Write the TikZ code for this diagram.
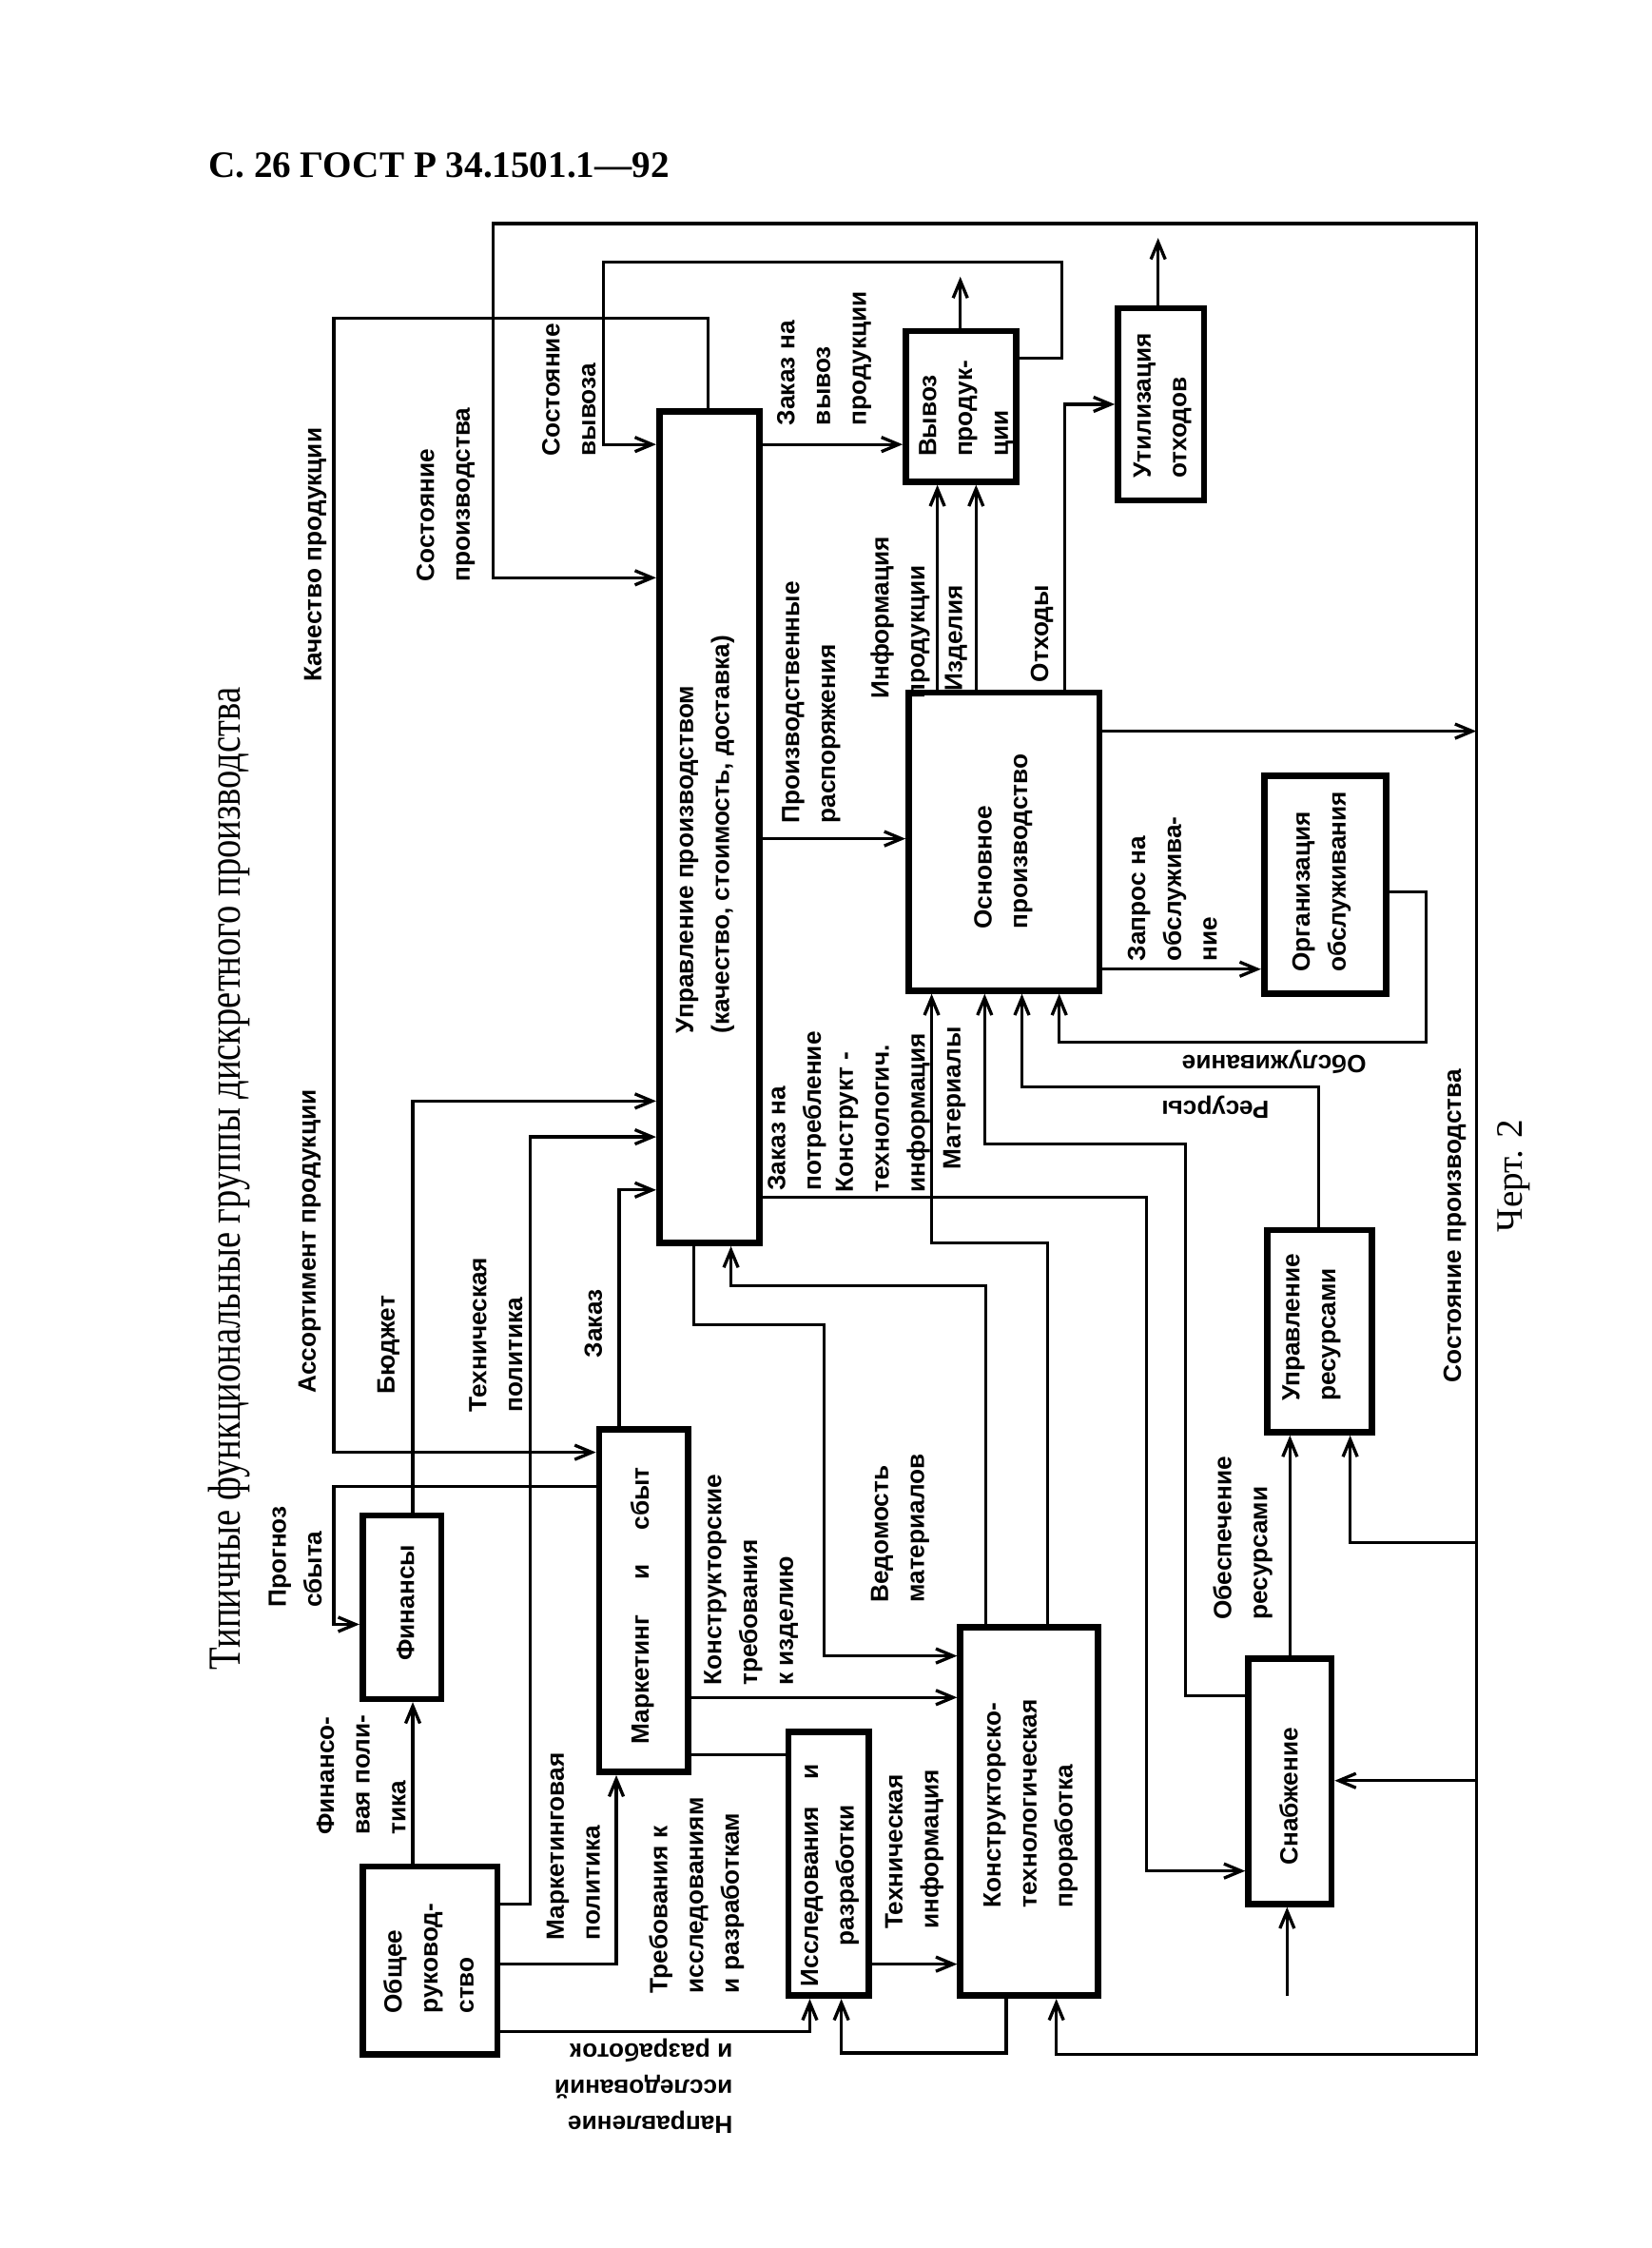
\documentclass[tikz,border=0pt]{standalone}
\usepackage{fontspec}
\setmainfont{Liberation Serif}
\newfontfamily\labfont{Liberation Sans}
\newfontfamily\titlefont[FakeStretch=0.8]{Liberation Serif}
\usetikzlibrary{arrows.meta,fit}
\begin{document}
\begin{tikzpicture}[x=0.5pt,y=-0.5pt,
  box/.style={draw,line width=2.2pt,inner sep=0pt},
  conn/.style={line width=1.1pt},
  arr/.style={line width=1.1pt,-{Straight Barb[length=6pt,width=5pt]}},
  lab/.style={font=\labfont\bfseries\fontsize{8.7}{12.5}\selectfont,rotate=90,align=left,inner sep=0pt},
  labc/.style={lab,align=center},
  labud/.style={font=\labfont\bfseries\fontsize{8.7}{12.5}\selectfont,rotate=180,align=left,inner sep=0pt}]
\useasboundingbox (0,0) rectangle (1152,1568);
% header and title
\node[font=\bfseries\fontsize{13}{13}\selectfont,anchor=base west,inner sep=0pt] (hdr) at (145,124) {С. 26 ГОСТ Р 34.1501.1—92};
\node[font=\titlefont\fontsize{16}{16}\selectfont,rotate=90,inner sep=0pt] (title) at (160,822) {Типичные функциональные группы дискретного производства};
\node[font=\fontsize{13}{13}\selectfont,rotate=90,inner sep=0pt] (chert) at (1056,820) {Черт. 2};
% boxes
\node[box,fit={(460,287) (530,867)}] (UP) {};
\node[box,fit={(632,231) (709,336)}] (VP) {};
\node[box,fit={(780,215) (840,349)}] (UO) {};
\node[box,fit={(634,483) (767,691)}] (OP) {};
\node[box,fit={(882,541) (967,693)}] (OO) {};
\node[box,fit={(884,858) (957,999)}] (UR) {};
\node[box,fit={(871,1157) (929,1328)}] (SN) {};
\node[box,fit={(670,1135) (766,1392)}] (KT) {};
\node[box,fit={(550,1208) (606,1392)}] (IR) {};
\node[box,fit={(253,1302) (347,1433)}] (OR) {};
\node[box,fit={(418,997) (480,1236)}] (MS) {};
\node[box,fit={(253,1057) (308,1185)}] (FI) {};
% box texts
\node[lab] (UPt) at (492,582) {Управление производством\\(качество, стоимость, доставка)};
\node[lab] (VPt) at (674,285) {Вывоз\\продук-\\ции};
\node[lab] (UOt) at (811,283) {Утилизация\\отходов};
\node[lab] (OPt) at (700,587) {Основное\\производство};
\node[lab] (OOt) at (922,615) {Организация\\обслуживания};
\node[lab] (URt) at (915,926) {Управление\\ресурсами};
\node[lab] (SNt) at (899,1253) {Снабжение};
\node[lab] (KTt) at (719,1258) {Конструкторско-\\технологическая\\проработка};
\node[labc] (IRt) at (579,1308) {Исследования\hspace{1.1em}и\\разработки};
\node[lab] (ORt) at (299,1366) {Общее\\руковод-\\ство};
\node[lab] (MSt) at (448,1120) {Маркетинг\hspace{1.4em}и\hspace{1.4em}сбыт};
\node[lab] (FIt) at (283,1118) {Финансы};
% labels
\node[lab] (L1) at (220,387) {Качество продукции};
\node[lab] (L2) at (216,866) {Ассортимент продукции};
\node[lab] (L3) at (206,1086) {Прогноз\\сбыта};
\node[lab] (L4) at (311,345) {Состояние\\производства};
\node[lab] (L5) at (397,272) {Состояние\\вывоза};
\node[lab] (L6) at (575,250) {Заказ на\\вывоз\\продукции};
\node[lab] (L7) at (566,490) {Производственные\\распоряжения};
\node[lab] (L8) at (628,431) {Информация\\продукции};
\node[lab] (L9) at (667,445) {Изделия};
\node[lab] (L10) at (727,442) {Отходы};
\node[lab] (L11) at (818,620) {Запрос на\\обслужива-\\ние};
\node[labud] (L12) at (889,741) {Обслуживание};
\node[labud] (L13) at (848,772) {Ресурсы};
\node[lab] (L14) at (556,775) {Заказ на\\потребление};
\node[lab] (L15) at (616,776) {Конструкт -\\технологич.\\информация};
\node[lab] (L16) at (666,766) {Материалы};
\node[lab] (L17) at (271,938) {Бюджет};
\node[lab] (L18) at (346,931) {Техническая\\политика};
\node[lab] (L19) at (414,923) {Заказ};
\node[lab] (L20) at (400,1288) {Маркетинговая\\политика};
\node[lab] (L21) at (252,1238) {Финансо-\\вая поли-\\тика};
\node[lab] (L22) at (486,1322) {Требования к\\исследованиям\\и разработкам};
\node[lab] (L23) at (524,1102) {Конструкторские\\требования\\к изделию};
\node[lab] (L24) at (628,1066) {Ведомость\\материалов};
\node[lab] (L25) at (638,1290) {Техническая\\информация};
\node[lab] (L26) at (867,1073) {Обеспечение\\ресурсами};
\node[lab] (L27) at (1015,855) {Состояние производства};
\node[labud] (L28) at (449,1455) {Направление\\исследований\\и разработок};
% free ends and junctions
\coordinate (FR) at (1030,510);
\coordinate (FJ1) at (1030,1076);
\coordinate (FJ2) at (1030,1242);
\coordinate (VPout) at (670,193);
\coordinate (UOout) at (808,166);
\coordinate (SNin) at (898,1392);
% connectors
\draw[arr] (UP.north -| 494,0) -- (494,222) -- (233,222) -- (233,1013) -- (MS.west |- 0,1013);
\draw[arr] (MS.west |- 0,1037) -- (233,1037) -- (233,1133) -- (FI.west |- 0,1133);
\draw[arr] (FI.north -| 288,0) -- (288,768) -- (UP.west |- 0,768);
\draw[arr] (OR.east |- 0,1328) -- (370,1328) -- (370,793) -- (UP.west |- 0,793);
\draw[arr] (MS.north -| 432,0) -- (432,830) -- (UP.west |- 0,830);
\draw[arr] (OR.north -| 288,0) -- (FI.south -| 288,0);
\draw[arr] (OR.east |- 0,1370) -- (430,1370) -- (MS.south -| 430,0);
\draw[arr] (OR.east |- 0,1417) -- (565,1417) -- (IR.south -| 565,0);
\draw[conn] (MS.east |- 0,1224) -- (IR.west |- 0,1224);
\draw[arr] (MS.east |- 0,1184) -- (KT.west |- 0,1184);
\draw[arr] (UP.south -| 484,0) -- (484,924) -- (575,924) -- (575,1155) -- (KT.west |- 0,1155);
\draw[arr] (KT.north -| 688,0) -- (688,897) -- (510,897) -- (UP.south -| 510,0);
\draw[arr] (KT.north -| 731,0) -- (731,867) -- (650,867) -- (OP.south -| 650,0);
\draw[arr] (UP.east |- 0,835) -- (800,835) -- (800,1305) -- (SN.west |- 0,1305);
\draw[arr] (SN.west |- 0,1183) -- (827,1183) -- (827,798) -- (687,798) -- (OP.south -| 687,0);
\draw[arr] (UR.north -| 920,0) -- (920,758) -- (713,758) -- (OP.south -| 713,0);
\draw[arr] (OO.east |- 0,622) -- (995,622) -- (995,727) -- (739,727) -- (OP.south -| 739,0);
\draw[arr] (OP.east |- 0,676) -- (OO.west |- 0,676);
\draw[arr] (UP.east |- 0,585) -- (OP.west |- 0,585);
\draw[arr] (UP.east |- 0,310) -- (VP.west |- 0,310);
\draw[arr] (VP.east |- 0,250) -- (741,250) -- (741,183) -- (421,183) -- (421,310) -- (UP.west |- 0,310);
\draw[arr] (OP.east |- 0,510) -- (FR);
\draw[arr] (FR) -- (1030,156) -- (344,156) -- (344,403) -- (UP.west |- 0,403);
\draw[arr] (FR) -- (1030,1433) -- (737,1433) -- (KT.south -| 737,0);
\draw[arr] (FJ1) -- (942,1076) -- (UR.south -| 942,0);
\draw[arr] (FJ2) -- (SN.east |- 0,1242);
\draw[arr] (KT.south -| 702,0) -- (702,1432) -- (587,1432) -- (IR.south -| 587,0);
\draw[arr] (IR.east |- 0,1370) -- (KT.west |- 0,1370);
\draw[arr] (SN.north -| 900,0) -- (UR.south -| 900,0);
\draw[arr] (SNin) -- (SN.south -| 898,0);
\draw[arr] (OP.north -| 654,0) -- (VP.south -| 654,0);
\draw[arr] (OP.north -| 681,0) -- (VP.south -| 681,0);
\draw[arr] (OP.north -| 743,0) -- (743,282) -- (UO.west |- 0,282);
\draw[arr] (VP.north -| 670,0) -- (VPout);
\draw[arr] (UO.north -| 808,0) -- (UOout);
\end{tikzpicture}
\end{document}
